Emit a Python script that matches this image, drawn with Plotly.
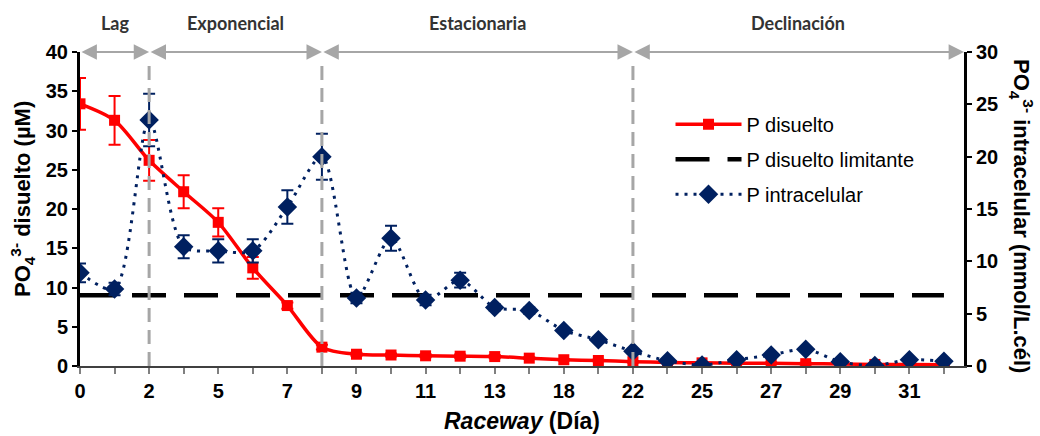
import plotly.graph_objects as go

# ---------------- data ----------------
days = [0, 1, 2, 4, 5, 6, 7, 8, 9, 10, 11, 12, 13, 15, 18, 20, 22, 23, 25, 26, 27, 28, 29, 30, 31, 32]
p_disuelto = [33.4, 31.3, 26.2, 22.2, 18.3, 12.5, 7.7, 2.4, 1.5, 1.4, 1.3, 1.25, 1.2, 1.0,
              0.8, 0.7, 0.55, 0.45, 0.4, 0.35, 0.35, 0.3, 0.25, 0.2, 0.2, 0.15]
p_disuelto_err = [3.3, 3.1, 2.6, 2.1, 1.8, 1.4, 0.4, 0.3, 0.2, 0.2, 0.2, 0.2, 0.2, 0.1,
                  0.1, 0.1, 0.1, 0.1, 0.1, 0.1, 0.1, 0.1, 0.1, 0.1, 0.1, 0.1]
p_intra = [8.9, 7.35, 23.5, 11.4, 11.0, 11.0, 15.2, 20.0, 6.5, 12.2, 6.3, 8.2, 5.6, 5.3,
           3.4, 2.5, 1.4, 0.5, 0.1, 0.6, 1.05, 1.6, 0.4, 0.05, 0.6, 0.45]
p_intra_err = [0.9, 0.6, 2.5, 1.1, 1.1, 1.1, 1.6, 2.2, 0.5, 1.2, 0.5, 0.7, 0.3, 0.3,
               0.2, 0.2, 0.2, 0.1, 0.1, 0.1, 0.1, 0.1, 0.1, 0.1, 0.1, 0.1]
p_limitante = 9.0
phase_names = ["Lag", "Exponencial", "Estacionaria", "Declinación"]
phase_bounds = [0, 2, 8, 22]   # days where each phase starts

# ---------------- figure ----------------
idx = list(range(len(days)))
ticktext = [str(d) if i % 2 == 0 else "" for i, d in enumerate(days)]
x_end = len(days) - 1 + 0.58

AX_FONT = dict(family="Liberation Sans, Arial", size=20, color="black", weight="bold")
TITLE_FONT = dict(family="Liberation Sans, Arial", size=22, color="black", weight="bold")
RED = "#FF0000"
NAVY = "#002060"
GRAY = "#A6A6A6"

fig = go.Figure()

fig.add_trace(go.Scatter(
    x=idx, y=p_disuelto, name="P disuelto", legendgroup="a",
    mode="lines+markers",
    line=dict(color=RED, width=3.5, shape="spline", smoothing=0.8),
    marker=dict(symbol="square", size=11, color=RED),
    error_y=dict(type="data", array=p_disuelto_err, color=RED, thickness=2, width=6),
))
fig.add_trace(go.Scatter(
    x=idx, y=[p_limitante] * len(idx), name="P disuelto limitante", legendgroup="b",
    mode="lines",
    line=dict(color="black", width=4.5, dash="34px,18px"),
))
fig.add_trace(go.Scatter(
    x=idx, y=p_intra, name="P intracelular", legendgroup="c", yaxis="y2",
    mode="lines+markers",
    line=dict(color=NAVY, width=3, dash="3px,6px", shape="spline", smoothing=0.8),
    marker=dict(symbol="diamond", size=15, color=NAVY),
    error_y=dict(type="data", array=p_intra_err, color=NAVY, thickness=2, width=6),
))

# phase boundaries and arrows
bidx = [days.index(b) for b in phase_bounds]
shapes = []
for b in bidx[1:]:
    shapes.append(dict(type="line", xref="x", yref="y", x0=b, x1=b, y0=0, y1=39.0,
                       line=dict(color=GRAY, width=3, dash="14px,8px"), layer="above"))

annotations = []
ends = bidx[1:] + [x_end]
for name, s, e in zip(phase_names, bidx, ends):
    annotations.append(dict(
        x=e, y=40, ax=s, ay=40, xref="x", yref="y", axref="x", ayref="y",
        text="", showarrow=True, arrowside="end+start", arrowhead=2, startarrowhead=2,
        arrowsize=1.4, startarrowsize=1.4, arrowwidth=2.2, arrowcolor=GRAY,
        standoff=0, startstandoff=0))
    annotations.append(dict(
        x=(s + e) / 2, y=1 + 29 / 314, xref="x", yref="paper", text=name, showarrow=False,
        font=dict(family="Lato, Open Sans", size=18, color="#333333", weight="bold"),
        xanchor="center", yanchor="middle"))

# axis titles as annotations (for exact placement / orientation)
annotations.append(dict(
    x=-58 / 884, y=(366 - 199) / 314, xref="paper", yref="paper",
    text="PO<sub>4</sub><sup>3-</sup> disuelto (µM)",
    textangle=-90, showarrow=False, xanchor="center", yanchor="middle", font=TITLE_FONT))
annotations.append(dict(
    x=1 + 58 / 884, y=(366 - 216) / 314, xref="paper", yref="paper",
    text="PO<sub>4</sub><sup>3-</sup> intracelular (mmol/L.cél)",
    textangle=90, showarrow=False, xanchor="center", yanchor="middle", font=TITLE_FONT))
annotations.append(dict(
    x=0.5, y=-(421 - 366) / 314, xref="paper", yref="paper",
    text="<i>Raceway</i> (Día)", showarrow=False, xanchor="center", yanchor="middle",
    font=dict(family="Liberation Sans, Arial", size=23, color="black", weight="bold")))

fig.update_layout(
    width=1040, height=436,
    margin=dict(l=80, r=76, t=52, b=70),
    plot_bgcolor="white", paper_bgcolor="white",
    showlegend=True,
    legend=dict(x=0.668, y=0.832, xanchor="left", yanchor="top",
                font=dict(family="Liberation Sans, Arial", size=20, color="black"),
                itemwidth=66, tracegroupgap=6, bgcolor="rgba(0,0,0,0)"),
    xaxis=dict(range=[0, x_end], tickmode="array", tickvals=idx, ticktext=ticktext,
               ticks="outside", ticklen=6, tickcolor="#808080", tickwidth=1.5,
               showline=True, linecolor="#404040", linewidth=1.5, automargin=False,
               showgrid=False, zeroline=False, tickfont=AX_FONT),
    yaxis=dict(range=[0, 40], dtick=5, ticks="outside", ticklen=5, tickwidth=2,
               tickcolor="black", showline=True, linecolor="black", linewidth=3,
               showgrid=False, zeroline=False, tickfont=AX_FONT, automargin=False),
    yaxis2=dict(range=[0, 30], dtick=5, overlaying="y", side="right", ticks="outside",
                ticklen=5, tickwidth=2, tickcolor="black", showline=True, linecolor="black",
                linewidth=3, showgrid=False, zeroline=False, tickfont=AX_FONT,
                automargin=False),
    shapes=shapes, annotations=annotations,
)

fig.write_html("out.html", config={"displayModeBar": False},
               post_script="document.body.style.margin='0';")
